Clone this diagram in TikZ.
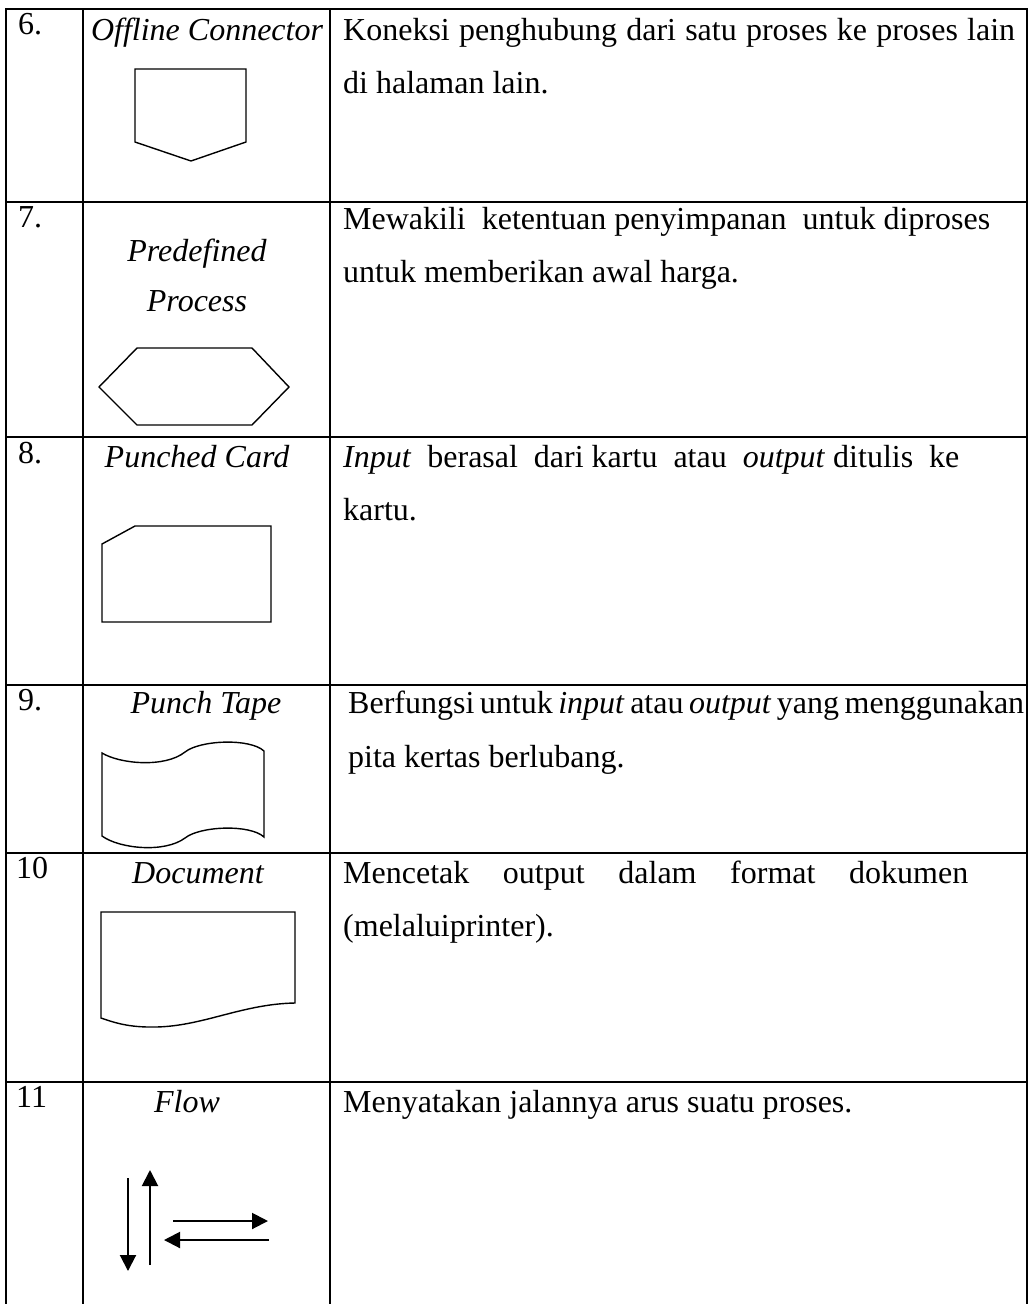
\documentclass[tikz,border=0pt]{standalone}
\usepackage{fontspec}
\setmainfont{Liberation Serif}
\usepackage{tikz}
\usetikzlibrary{
  arrows.meta,
  positioning,
  calc,
}
\tikzset{
  rule line/.style={
    line width=2.6pt,
    line cap=rect
  },
  sym line/.style={
    line width=1.4pt,
    line join=miter
  },
  flow arrow/.style={
    line width=2pt,
    -{Triangle[length=16pt, width=16pt]}
  },
  cell text/.style={
    font=\fontsize{32}{38}\selectfont,
    inner sep=0pt,
    anchor=base west
  },
  sym name/.style={
    cell text,
    font=\fontsize{32}{38}\selectfont\itshape,
    anchor=base
  }
}

\begin{document}
\begin{tikzpicture}[x=1pt, y=-1pt]
  \useasboundingbox (0,0) rectangle (1030,1304);

  %% table rules
  \draw[rule line] (6,1304) -- (6,9) -- (1027,9) -- (1027,1304);
  \foreach \x in {83,330}
    \draw[rule line] (\x,9) -- (\x,1304);
  \foreach \y in {202,437,685,853,1082}
    \draw[rule line] (6,\y) -- (1027,\y);

  %% 6. offline connector
  \node[cell text] (n6) at (18,34) {6.};
  \node[sym name]  (l6) at (207,40) {Offline Connector};
  \draw[sym line] (135,69) -- (246,69) -- (246,142) -- (191,161) -- (135,142) -- cycle;
  \node[cell text] (d6a) at (343,40) {\makebox[672pt][s]{Koneksi penghubung dari satu proses ke proses lain}};
  \node[cell text] (d6b) at ([yshift=-53pt]d6a.base west) {di halaman lain.};

  %% 7. predefined process
  \node[cell text] (n7) at (18,227) {7.};
  \node[sym name]  (l7a) at (197,261) {Predefined};
  \node[sym name]  (l7b) at ([yshift=-50pt]l7a.base) {Process};
  \draw[sym line] (99,387) -- (137,348) -- (252,348) -- (289,387) -- (252,425) -- (137,425) -- cycle;
  \node[cell text] (d7a) at (343,229) {Mewakili\ \ ketentuan penyimpanan\ \ untuk diproses};
  \node[cell text] (d7b) at ([yshift=-53pt]d7a.base west) {untuk memberikan awal harga.};

  %% 8. punched card
  \node[cell text] (n8) at (18,463) {8.};
  \node[sym name]  (l8) at (197,467) {Punched Card};
  \draw[sym line] (102,544) -- (135,526) -- (271,526) -- (271,622) -- (102,622) -- cycle;
  \node[cell text] (d8a) at (343,467) {\textit{Input}\ \ berasal\ \ dari kartu\ \ atau\ \ \textit{output} ditulis\ \ ke};
  \node[cell text] (d8b) at ([yshift=-53pt]d8a.base west) {kartu.};

  %% 9. punch tape
  \node[cell text] (n9) at (18,710) {9.};
  \node[sym name]  (l9) at (206,713) {Punch Tape};
  \draw[sym line] (102,753) .. controls (120,764) and (165,768) .. (185,752)
    .. controls (200,740) and (250,738) .. (264,751) -- (264,837)
    .. controls (250,824) and (200,826) .. (185,838)
    .. controls (165,853) and (120,849) .. (102,836) -- cycle;
  \node[cell text] (d9a) at (348,713) {\makebox[676pt][s]{Berfungsi untuk \textit{input} atau \textit{output} yang menggunakan}};
  \node[cell text] (d9b) at ([yshift=-54pt]d9a.base west) {pita kertas berlubang.};

  %% 10. document
  \node[cell text] (n10) at (16,878) {10};
  \node[sym name]  (l10) at (198,883) {Document};
  \draw[sym line] (101,912) -- (295,912) -- (295,1003)
    .. controls (240,1004) and (200,1028) .. (150,1027)
    .. controls (125,1027) and (110,1021) .. (101,1018) -- cycle;
  \node[cell text] (d10a) at (343,883) {\makebox[625pt][s]{Mencetak output dalam format dokumen}};
  \node[cell text] (d10b) at ([yshift=-53pt]d10a.base west) {(melaluiprinter).};

  %% 11. flow
  \node[cell text] (n11) at (16,1107) {11};
  \node[sym name]  (l11) at (187,1112) {Flow};
  \coordinate (dn0) at (128,1178);
  \coordinate (dn1) at (128,1271);
  \coordinate (up0) at (150,1265);
  \coordinate (up1) at (150,1170);
  \coordinate (rt0) at (173,1221);
  \coordinate (rt1) at (268,1221);
  \coordinate (lt0) at (269,1240);
  \coordinate (lt1) at (164,1240);
  \draw[flow arrow] (dn0) -- (dn1);
  \draw[flow arrow] (up0) -- (up1);
  \draw[flow arrow] (rt0) -- (rt1);
  \draw[flow arrow] (lt0) -- (lt1);
  \node[cell text] (d11) at (343,1112) {Menyatakan jalannya arus suatu proses.};
\end{tikzpicture}
\end{document}
